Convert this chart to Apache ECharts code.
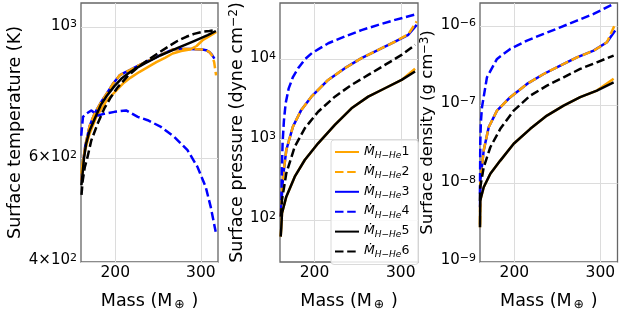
<!DOCTYPE html>
<html><head><meta charset="utf-8">
<script src="https://cdn.jsdelivr.net/npm/echarts@6/dist/echarts.min.js"></script>
<style>html,body{margin:0;padding:0;background:#fff}#c{width:623px;height:312px}</style>
</head><body><div id="c"></div>
<script>
// ---------- data ----------
const seriesNames = ['Ṁ_H−He1','Ṁ_H−He2','Ṁ_H−He3','Ṁ_H−He4','Ṁ_H−He5','Ṁ_H−He6'];
const massTicks = [200, 300];

const tempTicks = [400, 600, 1000];
const tempTickLabels = ['4×10^2', '6×10^2', '10^3'];
const presTicks = [100, 1000, 10000];
const presTickLabels = ['10^2', '10^3', '10^4'];
const densTicks = [1e-9, 1e-8, 1e-7, 1e-6];
const densTickLabels = ['10^−9', '10^−8', '10^−7', '10^−6'];

// Surface temperature (K) vs mass
const temp1 = [[160.5,565],[162,590],[165,620],[170,660],[178,705],[190,752],[200,778],[209,803],[218,822],[228,840],[238,856],[248,873],[258,888],[267,903],[277,912],[287,917],[295,930],[302,951],[310,966],[318,982]];
const temp2 = [[160.5,550],[162,585],[165,630],[170,680],[176,715],[183,745],[190,772],[198,805],[205,829],[212,840],[217,846],[228,863],[238,877],[248,890],[258,905],[267,917],[277,919],[287,919],[295,918],[302,917],[306,915],[310,908],[313,896],[315.5,873],[317.8,829]];
const temp3 = [[160.5,550],[162,585],[165,630],[170,680],[176,715],[183,745],[190,772],[198,805],[205,829],[212,840],[217,846],[228,863],[238,877],[248,890],[258,905],[267,917],[277,919],[287,919],[295,918],[302,917],[306,915],[310,908],[313,898],[315.8,885]];
const temp4 = [[160.3,655],[161.2,678],[162.3,705],[166.2,714],[172,723],[179.8,709],[187.6,714],[199.2,719],[212.7,723],[226.3,705],[237.9,696],[253.4,678],[269,652],[284.4,619],[296,580],[305.7,536],[311.5,496],[317.3,450]];
const temp5 = [[160.5,540],[162,568],[163.5,600],[166,635],[170,668],[176,700],[183,738],[190,765],[199,795],[207,818],[215,835],[224,852],[234,868],[244,883],[253,897],[263,910],[273,923],[283,936],[292,948],[300,959],[308,970],[317.5,986]];
const temp6 = [[160.6,520],[162,550],[164.5,580],[167.3,600],[172,643],[180,690],[187.5,730],[195,762],[203,792],[214,825],[226,855],[240,884],[253,910],[263,930],[273,949],[283,964],[292,975],[302,983],[310,986],[317.5,990]];

// Surface pressure (dyne cm^-2) vs mass
const pres1 = [[160.8,62],[161.5,80],[162.3,121],[167.3,195],[177.1,345],[188.7,557],[204.2,899],[223.6,1520],[242.9,2450],[262.3,3420],[281.7,4350],[301,5520],[316.6,7600]];
const pres2 = [[161,110],[161.5,150],[163.5,345],[167.3,742],[175,1450],[184.7,2340],[196.4,3420],[215.8,5520],[235.2,7730],[254.5,10290],[274,13060],[293.4,16570],[308.8,20500],[318.5,29500]];
const pres3 = [[161,110],[161.5,150],[163.5,345],[167.3,742],[175,1450],[184.7,2340],[196.4,3420],[215.8,5520],[235.2,7730],[254.5,10290],[274,13060],[293.4,16570],[308.8,20100],[318.5,26700]];
const pres4 = [[161.7,177],[162.2,450],[163,900],[164.5,1700],[166.5,2800],[170,4300],[175,6000],[181,7700],[189,10000],[197,11900],[207,13800],[216,15800],[235,19100],[254.5,23000],[274,26700],[293.4,30800],[306,33500],[317,36000]];
const pres5 = [[160.8,62],[161.5,80],[162.3,121],[167.3,195],[177.1,345],[188.7,557],[204.2,899],[223.6,1520],[242.9,2450],[262.3,3420],[281.7,4350],[301,5520],[316.6,7020]];
const pres6 = [[161,110],[162.3,177],[167.3,380],[177.1,817],[188.7,1380],[204.2,2220],[223.6,3420],[242.9,4790],[262.3,6370],[281.7,8490],[301,11310],[316.6,15070]];

// Surface density (g cm^-3) vs mass
const dens1 = [[160,2.77e-9],[160.3,6.07e-9],[164.3,8.97e-9],[172,1.33e-8],[183.6,1.96e-8],[199.2,3.21e-8],[218.5,4.98e-8],[237.9,7.35e-8],[257.3,9.86e-8],[276.6,1.26e-7],[296,1.53e-7],[315.5,2.16e-7]];
const dens2 = [[160,3e-9],[160.3,1.09e-8],[164.3,2.63e-8],[170.1,5.21e-8],[179.8,8.51e-8],[195.2,1.26e-7],[214.7,1.86e-7],[234.1,2.49e-7],[253.4,3.18e-7],[272.8,4.06e-7],[292.2,4.94e-7],[307.7,6.31e-7],[316.5,1.03e-6]];
const dens3 = [[160,5e-9],[160.3,1.09e-8],[164.3,2.63e-8],[170.1,5.21e-8],[179.8,8.51e-8],[195.2,1.26e-7],[214.7,1.86e-7],[234.1,2.49e-7],[253.4,3.18e-7],[272.8,4.06e-7],[292.2,4.94e-7],[307.7,6.31e-7],[317.3,8.9e-7]];
const dens4 = [[160,7.4e-9],[160.3,3.2e-8],[161,6e-8],[162.3,9.4e-8],[168.1,2.26e-7],[179.8,3.88e-7],[195.2,5.2e-7],[214.7,6.64e-7],[234.1,8.07e-7],[253.4,9.8e-7],[272.8,1.19e-6],[292.2,1.45e-6],[315.5,1.95e-6]];
const dens5 = [[160,2.77e-9],[160.3,6.07e-9],[164.3,8.97e-9],[172,1.33e-8],[183.6,1.96e-8],[199.2,3.21e-8],[218.5,4.98e-8],[237.9,7.35e-8],[257.3,9.86e-8],[276.6,1.26e-7],[296,1.53e-7],[315.5,1.95e-7]];
const dens6 = [[160,6e-9],[160.3,8.97e-9],[164.3,1.61e-8],[172,2.9e-8],[183.6,4.98e-8],[199.2,8.51e-8],[218.5,1.32e-7],[237.9,1.77e-7],[257.3,2.26e-7],[276.6,2.89e-7],[296,3.51e-7],[315.5,4.28e-7]];

// ---------- chart ----------
const FONT = 'DejaVu Sans';
const colors = ['#FFA500','#FFA500','#0000FF','#0000FF','#000000','#000000'];
const dashed = [false,true,false,true,false,true];
const DASH = [8.5, 3.7];

function supLabel(s){
  const i = s.indexOf('^');
  if (i < 0) return '{b|' + s + '}';
  return '{b|' + s.slice(0,i) + '}{p|' + s.slice(i+1) + '}';
}
const tickRich = {
  b:{fontFamily:FONT,fontSize:15,color:'#000',lineHeight:18,verticalAlign:'top'},
  p:{fontFamily:FONT,fontSize:11,color:'#000',lineHeight:11,verticalAlign:'top',padding:[0,0,7,0]}
};

const grids = [
  {left:81, top:3, width:137, height:259},
  {left:280, top:3, width:138, height:259},
  {left:480, top:3, width:137.5, height:259}
].map(g => Object.assign(g, {show:true, containLabel:false, outerBoundsMode:'none',
  borderColor:'#666', borderWidth:1.3, backgroundColor:'#fff'}));

const xAxes = [0,1,2].map(i => ({
  type:'value', gridIndex:i, min:160, max:320,
  name:'{a|Mass (M}{s|⊕}{a| )}', nameLocation:'middle', nameGap:30,
  nameTextStyle:{rich:{
    a:{fontFamily:FONT,fontSize:17.5,color:'#000',lineHeight:21,verticalAlign:'top'},
    s:{fontFamily:FONT,fontSize:12.5,color:'#000',lineHeight:14,verticalAlign:'top',padding:[6,1,0,2]}
  }},
  axisLine:{show:false}, axisTick:{show:false, customValues:massTicks},
  axisLabel:{customValues:massTicks, fontFamily:FONT, fontSize:15.5, color:'#000', margin:3},
  splitLine:{show:true, lineStyle:{color:'#dcdcdc', width:1}}
}));

function yAx(i, min, max, ticks, labels, name, nameGap, nameSize){
  return {
    type:'log', logBase:10, gridIndex:i, min:min, max:max,
    name:name, nameLocation:'middle', nameGap:nameGap, nameRotate:90,
    nameTextStyle:{rich:{
      a:{fontFamily:FONT,fontSize:nameSize,color:'#000',lineHeight:nameSize+3,verticalAlign:'top'},
      p:{fontFamily:FONT,fontSize:nameSize*0.7,color:'#000',lineHeight:nameSize*0.7,verticalAlign:'top',padding:[0,0,6,0]}
    }},
    axisLine:{show:false}, axisTick:{show:false, customValues:ticks},
    axisLabel:{customValues:ticks, margin:4, rich:tickRich,
      formatter:function(v){
        for (let k=0;k<ticks.length;k++){ if (Math.abs(Math.log10(v)-Math.log10(ticks[k]))<1e-6) return supLabel(labels[k]); }
        return '';
      }},
    splitLine:{show:true, lineStyle:{color:'#dcdcdc', width:1}}
  };
}
const yAxes = [
  yAx(0, 400, 1100, tempTicks, tempTickLabels, '{a|Surface temperature (K)}', 54, 17.5),
  yAx(1, 30, 50000, presTicks, presTickLabels, '{a|Surface pressure (dyne cm}{p|−2}{a|)}', 31, 17.5),
  yAx(2, 1e-9, 2e-6, densTicks, densTickLabels, '{a|Surface density (g cm}{p|−3}{a|)}', 35, 16.5)
];

const panelData = [
  [temp1,temp2,temp3,temp4,temp5,temp6],
  [pres1,pres2,pres3,pres4,pres5,pres6],
  [dens1,dens2,dens3,dens4,dens5,dens6]
];
// draw order: blue solid below orange dashed, orange solid below black solid
const drawOrder = [2,1,0,3,4,5];
const series = [];
for (let p=0;p<3;p++){
  for (const k of drawOrder){
    series.push({
      type:'line', name:seriesNames[k], xAxisIndex:p, yAxisIndex:p,
      data:panelData[p][k], symbol:'none', showSymbol:false, smooth:false,
      lineStyle:{color:colors[k], width:2.5, type: dashed[k] ? DASH : 'solid', join:'round'},
      itemStyle:{color:colors[k]}, emphasis:{disabled:true}, animation:false
    });
  }
}

const chart = echarts.init(document.getElementById('c'), null, {renderer:'canvas'});
chart.setOption({
  backgroundColor:'#fff',
  animation:false,
  grid:grids, xAxis:xAxes, yAxis:yAxes, series:series,
  legend:{
    data:seriesNames, orient:'vertical', left:331, top:140,
    itemWidth:24, itemHeight:14, itemGap:4.9,
    padding:[5,9,5,3], backgroundColor:'rgba(255,255,255,0.85)',
    borderColor:'#dadada', borderWidth:1, borderRadius:3,
    selectedMode:false,
    itemStyle:{opacity:0},
    formatter:function(name){ return '{m|Ṁ}{s|H−He}{n|' + name.slice(-1) + '}'; },
    textStyle:{rich:{
      m:{fontFamily:FONT,fontSize:12.5,fontStyle:'italic',color:'#000',lineHeight:14,verticalAlign:'top'},
      s:{fontFamily:FONT,fontSize:9,fontStyle:'italic',color:'#000',lineHeight:9,verticalAlign:'top',padding:[6,0,0,0]},
      n:{fontFamily:FONT,fontSize:12.5,color:'#000',lineHeight:14,verticalAlign:'top'}
    }}
  }
});
</script></body></html>
